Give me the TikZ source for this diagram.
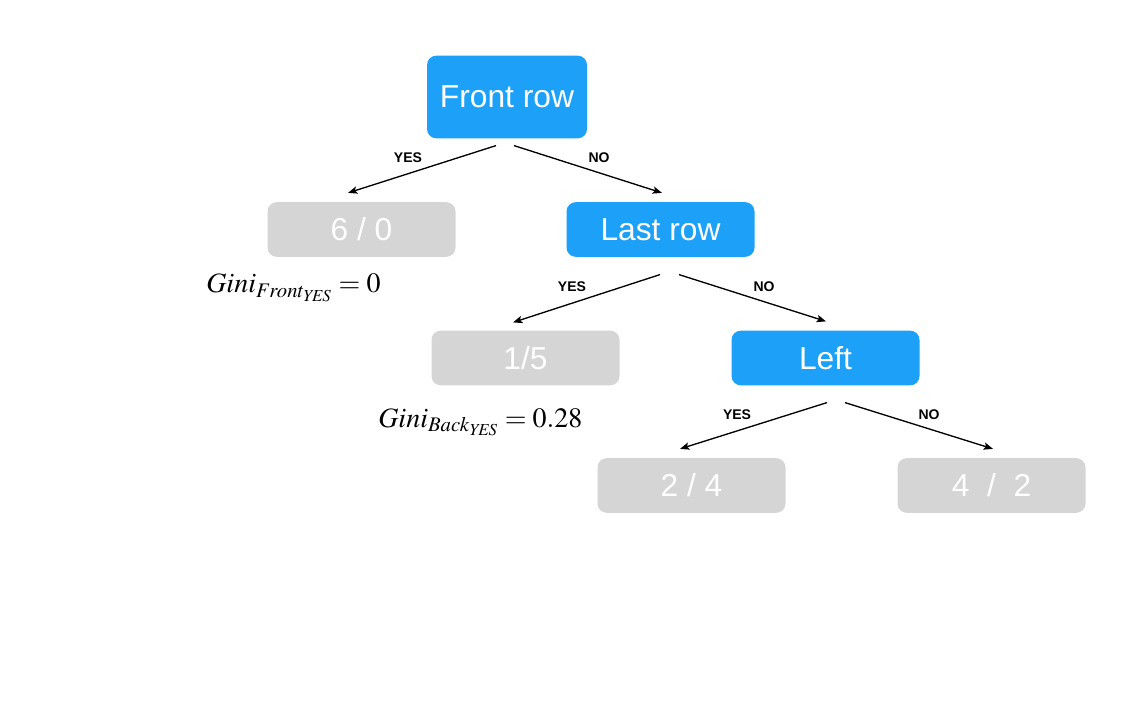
\documentclass[tikz,border=0pt]{standalone}
\usepackage{mathptmx}
\usepackage[no-math]{fontspec}
\setmainfont{Liberation Sans}
\usetikzlibrary{arrows.meta,calc}
\definecolor{splitblue}{HTML}{1DA1F8}
\definecolor{leafgray}{HTML}{D5D5D5}
\begin{document}
\begin{tikzpicture}[x=0.75pt,y=-0.75pt,
  box/.style={rounded corners=7pt,inner sep=0pt,text=white,
    font=\fontsize{23.8}{27}\selectfont},
  split/.style={box,fill=splitblue},
  leaf/.style={box,fill=leafgray,minimum width=141pt,minimum height=41pt},
  arr/.style={line width=1pt,-{Stealth[length=7pt,width=5.5pt,inset=1.5pt]}},
  ans/.style={font=\fontsize{10.5}{12}\selectfont\bfseries},
  gini/.style={anchor=base west,inner sep=0pt,font=\fontsize{21}{25}\selectfont}]
\useasboundingbox (0,0) rectangle (1132,702);

% decision nodes
\node[split,minimum width=120pt,minimum height=62pt] (fr) at (507,97) {Front row};
\node[split,minimum width=141pt,minimum height=41pt] (lr) at (660.5,229.5) {Last row};
\node[split,minimum width=141pt,minimum height=41pt] (lf) at (825.5,358) {Left};

% leaves
\node[leaf] (n60) at (361.5,229.5) {6 / 0};
\node[leaf] (n15) at (525.5,358) {1/5};
\node[leaf] (n24) at (691.5,485.5) {2 / 4};
\node[leaf] (n42) at (991.5,485.5) {4 \ / \ 2};

% branches
\draw[arr] ($(fr.south)+(-11,7)$) -- ($(n60.north)+(-13.5,-9)$);
\draw[arr] ($(fr.south)+(7,7)$) -- ($(lr.north)+(1.5,-9)$);
\draw[arr] ($(lr.south)+(-0.5,17.5)$) -- ($(n15.north)+(-12.5,-8)$);
\draw[arr] ($(lr.south)+(18.5,17.5)$) -- ($(lf.north)+(0.5,-9)$);
\draw[arr] ($(lf.south)+(1.5,17)$) -- ($(n24.north)+(-11.5,-9)$);
\draw[arr] ($(lf.south)+(19.5,17)$) -- ($(n42.north)+(1.5,-9)$);

% branch answers
\node[ans] (a1) at (408,158) {YES};
\node[ans] (a2) at (599,158) {NO};
\node[ans] (a3) at (572,287) {YES};
\node[ans] (a4) at (764,287) {NO};
\node[ans] (a5) at (737,415) {YES};
\node[ans] (a6) at (929,415) {NO};

% impurity of the pure-ish leaves
\node[gini] (g1) at (206,293) {$Gini_{Front_{\mathit{YES}}}=0$};
\node[gini] (g2) at (378,427) {$Gini_{Back_{\mathit{YES}}}=0.28$};
\end{tikzpicture}
\end{document}
